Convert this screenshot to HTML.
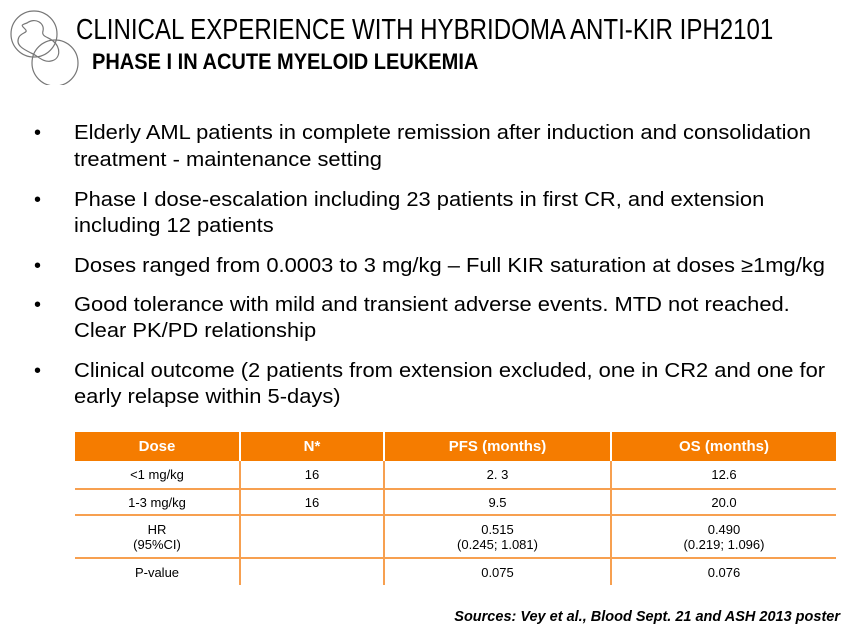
<!DOCTYPE html>
<html><head><meta charset="utf-8"><style>
body{margin:0;width:856px;height:632px;background:#fff;position:relative;overflow:hidden;font-family:"Liberation Sans",sans-serif;color:#000}
.a{position:absolute;white-space:nowrap}
.t{left:76px;top:14px;font-size:29px;transform:scaleX(0.83);transform-origin:0 0}
.s{left:92px;top:49px;font-size:22px;font-weight:bold;transform:scaleX(0.91);transform-origin:0 0}
.b{left:74px;font-size:20px;transform:scaleX(1.095);transform-origin:0 0}
.d{left:34px;font-size:20px}
table{position:absolute;left:75px;top:432px;width:761px;border-collapse:collapse;font-size:13px;text-align:center}
th{background:#f57c00;color:#fff;font-size:15px;height:27px;border-left:2px solid #fff}
th:first-child{border-left:none}
td{border-top:2px solid #f7a050;border-left:2px solid #f7a050;padding:0}
td:first-child{border-left:none}
tr:nth-child(2) td{border-top:none}
.src{right:16px;top:609px;font-size:14.5px;font-weight:bold;font-style:italic}
</style></head><body>
<svg class="a" style="left:5px;top:5px" width="75" height="80" viewBox="0 0 75 80" fill="none" stroke="#777" stroke-width="1.2">
<circle cx="29" cy="29" r="23"/><circle cx="50" cy="58" r="23"/>
<path d="M22 18c8-6 18 0 16 8c-2 6 6 6 10 10c8 6 8 18-2 20c-8 2-14-6-20-8c-8-4-16-8-12-16c3-5 10-4 6-8c-4-4-4-4 2-6z"/>
</svg>
<div class="a t">CLINICAL EXPERIENCE WITH HYBRIDOMA ANTI-KIR IPH2101</div>
<div class="a s">PHASE I IN ACUTE MYELOID LEUKEMIA</div>
<div class="a d" style="top:122px">•</div><div class="a b" style="top:122px">Elderly AML patients in complete remission after induction and consolidation</div>
<div class="a b" style="top:149px">treatment - maintenance setting</div>
<div class="a d" style="top:189px">•</div><div class="a b" style="top:189px">Phase I dose-escalation including 23 patients in first CR, and extension</div>
<div class="a b" style="top:215px">including 12 patients</div>
<div class="a d" style="top:255px">•</div><div class="a b" style="top:255px">Doses ranged from 0.0003 to 3 mg/kg – Full KIR saturation at doses ≥1mg/kg</div>
<div class="a d" style="top:294px">•</div><div class="a b" style="top:294px">Good tolerance with mild and transient adverse events. MTD not reached.</div>
<div class="a b" style="top:320px">Clear PK/PD relationship</div>
<div class="a d" style="top:360px">•</div><div class="a b" style="top:360px">Clinical outcome (2 patients from extension excluded, one in CR2 and one for</div>
<div class="a b" style="top:386px">early relapse within 5-days)</div>
<table>
<tr><th style="width:162px">Dose</th><th style="width:140px">N*</th><th style="width:223px">PFS (months)</th><th>OS (months)</th></tr>
<tr style="height:28px"><td>&lt;1 mg/kg</td><td>16</td><td>2. 3</td><td>12.6</td></tr>
<tr style="height:26px"><td>1-3 mg/kg</td><td>16</td><td>9.5</td><td>20.0</td></tr>
<tr style="height:43px"><td>HR<br>(95%CI)</td><td></td><td>0.515<br>(0.245; 1.081)</td><td>0.490<br>(0.219; 1.096)</td></tr>
<tr style="height:27px"><td>P-value</td><td></td><td>0.075</td><td>0.076</td></tr>
</table>
<div class="a src">Sources: Vey et al., Blood Sept. 21 and ASH 2013 poster</div>
</body></html>
